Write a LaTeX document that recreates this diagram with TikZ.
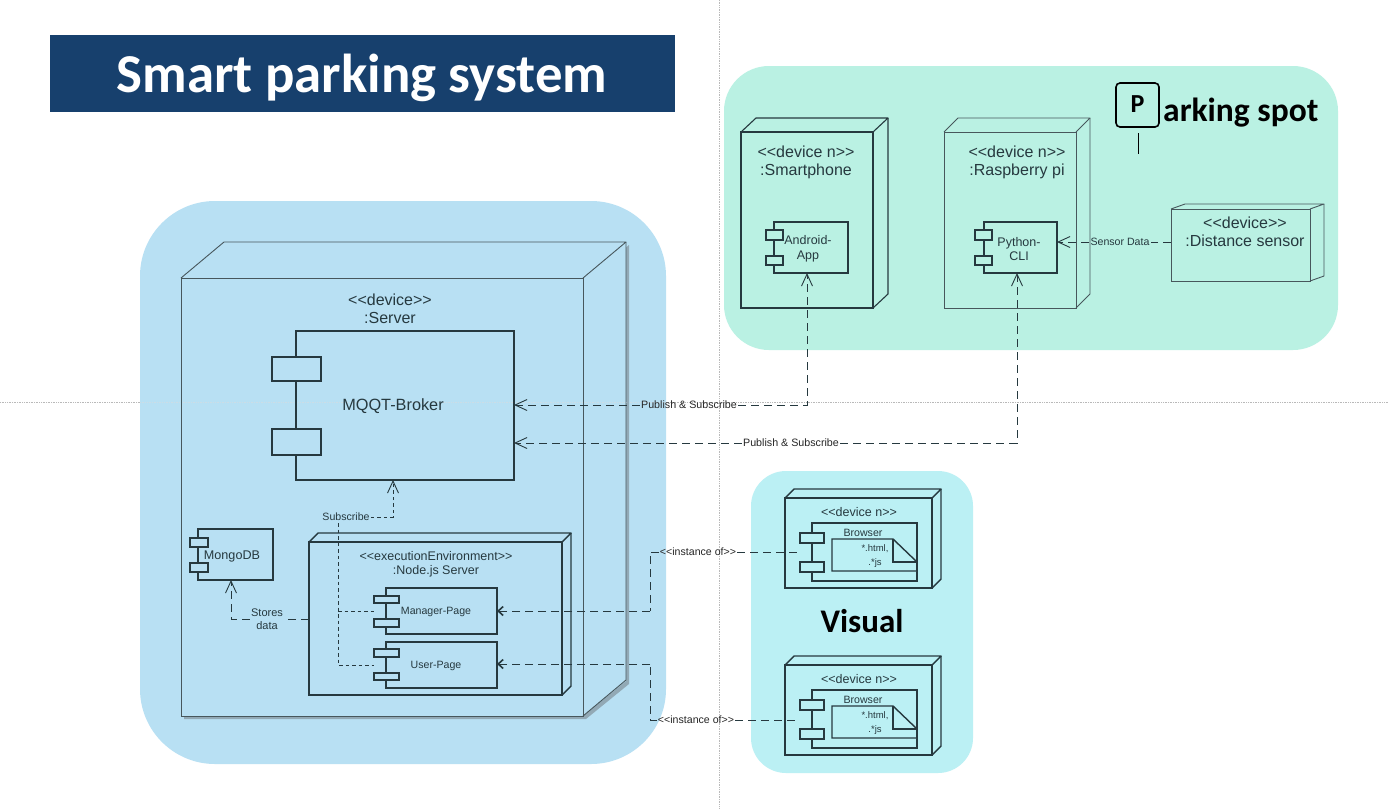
\documentclass[tikz,border=0pt]{standalone}
\usepackage{fontspec}
\setmainfont{Liberation Sans}
\newfontfamily\headfont{Carlito}
\usepackage{tikz}
\usetikzlibrary{arrows.meta,calc}
\definecolor{titlecol}{HTML}{17406D}
\definecolor{serverbg}{HTML}{B8E0F3}
\definecolor{spotbg}{HTML}{BAF1E3}
\definecolor{visualbg}{HTML}{BBF0F4}
\definecolor{linecol}{HTML}{26393F}
\definecolor{shadowcol}{HTML}{92A9B5}
\definecolor{guidefaint}{HTML}{CBDDE6}
\newcommand{\ltlt}{<{}<}
\newcommand{\gtgt}{>{}>}
\tikzset{
  guide/.style={draw=gray!55,densely dotted,line width=0.7pt},
  panel/.style={draw=none,inner sep=0pt,outer sep=0pt},
  boxnode/.style={draw=linecol,inner sep=0pt,outer sep=0pt,line width=1.4pt},
  thinbox/.style={draw=linecol!85,inner sep=0pt,outer sep=0pt,line width=0.9pt},
  boxtext/.style={text=linecol,font=\fontsize{16}{18}\selectfont,align=center,inner sep=0pt},
  smalltext/.style={text=linecol,font=\fontsize{10.6}{13}\selectfont,align=center,inner sep=1pt},
  head/.style={font=\headfont\bfseries,text=black,inner sep=0pt},
  dep/.style={draw=linecol,line width=1pt,dash pattern=on 8pt off 5pt},
  depfine/.style={draw=linecol,line width=0.8pt,dash pattern=on 3.5pt off 3pt},
  open/.style={-{Straight Barb[length=12pt,width=11pt,line width=0.9pt]}},
  openshort/.style={-{Straight Barb[length=5pt,width=9pt,line width=1.6pt]}}
}
% rectangle node given by its corners
\newcommand{\cornernode}[6][]{%
  \node[#1,minimum width={((#5)-(#3))*1pt},minimum height={((#6)-(#4))*1pt}] (#2) at ({((#3)+(#5))/2},{((#4)+(#6))/2}) {};}
% side and top of a device
\newcommand{\extrude}[4][boxnode]{%
  \draw[#1,line join=round] (#2.north west) -- ++(#3,-#4) -- ($(#2.north east)+(#3,-#4)$) -- (#2.north east);
  \draw[#1,line join=round] ($(#2.north east)+(#3,-#4)$) -- ($(#2.south east)+(#3,-#4)$) -- (#2.south east);}
\begin{document}
\begin{tikzpicture}[x=1pt,y=-1pt]
\useasboundingbox (0,0) rectangle (1388,809);
\fill[white] (0,0) rectangle (1388,809);
% guides
\coordinate (vtop) at (719,0);
\coordinate (vbot) at (719,809);
\coordinate (hleft) at (0,402);
\coordinate (hright) at (1388,402);
\draw[guide] (vtop) -- (vbot);
\draw[guide] (hleft) -- (hright);
% title
\node[panel,fill=titlecol,minimum width=625pt,minimum height=77pt] (title) at (362.5,73.5) {};
\node[font=\headfont\bfseries\fontsize{54.8}{58}\selectfont,text=white,inner sep=0pt] (titletext) at (362,77.5) {Smart parking system};
% panels
\node[panel,fill=serverbg,rounded corners=75pt,minimum width=526pt,minimum height=563pt] (serverpanel) at (403,482.5) {};
\node[panel,fill=spotbg,rounded corners=45pt,minimum width=614pt,minimum height=284pt] (spotpanel) at (1031,208) {};
\node[panel,fill=visualbg,rounded corners=35pt,minimum width=222pt,minimum height=302pt] (visualpanel) at (862,622) {};
\draw[guide,draw=guidefaint] (serverpanel.west |- hleft) -- (serverpanel.east |- hleft);
% server
\fill[shadowcol] (586,281) -- (629,245) -- (629,684) -- (586,719) -- (184,719) -- (184,716) -- (583,716) -- (583,281) -- cycle;
\fill[serverbg] (583,278) -- (626,242) -- (626,681) -- (583,716) -- cycle;
\draw[guide,draw=guidefaint] (583,402) -- (626,402);
\cornernode[thinbox]{server}{181}{278}{583}{716}
\extrude[thinbox]{server}{43}{36}
\node[boxtext] (servertext) at (390,309) {\ltlt device\gtgt\\:Server};
\cornernode[boxnode]{mqtt}{296}{331}{514}{480}
\cornernode[boxnode,fill=serverbg]{mqttport1}{272}{357}{321}{381}
\cornernode[boxnode,fill=serverbg]{mqttport2}{272}{429}{321}{455}
\node[boxtext,font=\fontsize{16.3}{18}\selectfont] (mqtttext) at (393,406) {MQQT-Broker};
\cornernode[boxnode]{mongo}{198}{529}{273}{580}
\cornernode[boxnode,fill=serverbg]{mongoport1}{190}{538}{208}{547}
\cornernode[boxnode,fill=serverbg]{mongoport2}{190}{563}{208}{572}
\node[boxtext,font=\fontsize{12.6}{16}\selectfont] (mongotext) at (232,556) {MongoDB};
\cornernode[boxnode]{nodejs}{309}{542}{562}{695}
\extrude{nodejs}{9}{9}
\node[boxtext,font=\fontsize{12.5}{14.5}\selectfont] (nodejstext) at (436,564.5) {\ltlt executionEnvironment\gtgt\\:Node.js Server};
\cornernode[boxnode]{manager}{386}{588}{497}{634}
\cornernode[boxnode,fill=serverbg]{managerport1}{374}{596}{399}{603}
\cornernode[boxnode,fill=serverbg]{managerport2}{374}{619}{399}{627}
\node[smalltext] (managertext) at (436,611.5) {Manager-Page};
\cornernode[boxnode]{user}{386}{642}{497}{688}
\cornernode[boxnode,fill=serverbg]{userport1}{374}{649}{399}{657}
\cornernode[boxnode,fill=serverbg]{userport2}{374}{673}{399}{680}
\node[smalltext] (usertext) at (436,665.5) {User-Page};
% parking spot
\cornernode[boxnode,line width=1.1pt]{phone}{741}{132}{873}{308}
\extrude[boxnode,line width=1.1pt]{phone}{15}{14}
\node[boxtext] (phonetext) at (806,162) {\ltlt device n\gtgt\\:Smartphone};
\cornernode[boxnode]{android}{774}{222}{848}{273}
\cornernode[boxnode,fill=spotbg]{androidport1}{766}{230}{783}{240}
\cornernode[boxnode,fill=spotbg]{androidport2}{766}{256}{783}{265}
\node[boxtext,font=\fontsize{12.5}{14.5}\selectfont] (androidtext) at (808,249) {Android-\\App};
\cornernode[thinbox]{raspi}{944}{132}{1076}{308}
\extrude[thinbox]{raspi}{14}{14}
\node[boxtext] (raspitext) at (1017,162) {\ltlt device n\gtgt\\:Raspberry pi};
\cornernode[boxnode]{python}{984}{222}{1057}{273}
\cornernode[boxnode,fill=spotbg]{pythonport1}{975}{230}{992}{240}
\cornernode[boxnode,fill=spotbg]{pythonport2}{975}{256}{992}{265}
\node[boxtext,font=\fontsize{12.5}{14.5}\selectfont] (pythontext) at (1019,249) {Python-\\CLI};
\cornernode[thinbox]{sensor}{1171}{209}{1310}{281}
\extrude[thinbox]{sensor}{14}{5}
\node[boxtext] (sensortext) at (1245,232) {\ltlt device\gtgt\\:Distance sensor};
\node[draw=black,line width=1.6pt,rounded corners=4pt,minimum width=43pt,minimum height=44pt,inner sep=0pt] (sign) at (1137.5,105) {};
\node[font=\headfont\bfseries\fontsize{26}{30}\selectfont,inner sep=0pt] (signtext) at (1137.5,104) {P};
\coordinate (posttop) at (1138,133);
\coordinate (postbot) at (1138,154);
\draw[black,line width=1pt] (posttop) -- (postbot);
\node[head,font=\headfont\bfseries\fontsize{33.5}{38}\selectfont,anchor=west] (spottext) at (1163,113) {arking spot};
% visual
\foreach \name/\dy in {one/0,two/167}{
  \cornernode[boxnode]{browser\name}{785}{498+\dy}{932}{588+\dy}
  \extrude{browser\name}{9}{9}
  \node[boxtext,font=\fontsize{12.5}{14}\selectfont] (devicetext\name) at (859,512+\dy) {\ltlt device n\gtgt};
  \cornernode[boxnode]{comp\name}{812}{523+\dy}{917}{581+\dy}
  \cornernode[boxnode,fill=visualbg]{compport\name a}{800}{533+\dy}{824}{543+\dy}
  \cornernode[boxnode,fill=visualbg]{compport\name b}{800}{562+\dy}{824}{572+\dy}
  \node[smalltext] (browsertext\name) at (863,533+\dy) {Browser};
  \coordinate (noteA\name) at (832,539+\dy);
  \coordinate (noteB\name) at (893,539+\dy);
  \coordinate (noteC\name) at (917,562+\dy);
  \coordinate (noteD\name) at (917,571+\dy);
  \coordinate (noteE\name) at (832,571+\dy);
  \coordinate (noteF\name) at (893,562+\dy);
  \draw[boxnode,fill=visualbg] (noteD\name) -- (noteE\name) -- (noteA\name) -- (noteB\name) -- (noteC\name);
  \draw[boxnode] (noteB\name) -- (noteF\name) -- (noteC\name) -- (noteD\name);
  \node[smalltext,font=\fontsize{9.5}{13.5}\selectfont] (notetext\name) at (875,556+\dy) {*.html,\\.*js};
}
\node[head,font=\headfont\bfseries\fontsize{33}{36}\selectfont] (visualtext) at (862,621) {Visual};
% connectors
\node[smalltext,font=\fontsize{10.7}{12}\selectfont,text=black!85] (publabelA) at (689,405) {Publish \& Subscribe};
\node[smalltext,font=\fontsize{10.7}{12}\selectfont,text=black!85] (publabelB) at (791,443) {Publish \& Subscribe};
\draw[dep,open] (publabelA.west) -- (publabelA.west -| mqtt.east);
\draw[dep,open] (publabelA.east) -| (android.south -| 807,0);
\draw[dep,open] (publabelB.west) -- (publabelB.west -| mqtt.east);
\draw[dep,open] (publabelB.east) -| (python.south -| 1017,0);
\node[smalltext] (sensorlabel) at (1120,242) {Sensor Data};
\draw[dep,open] (sensorlabel.west) -- (sensorlabel.west -| python.east);
\draw[dep] (sensor.west |- sensorlabel) -- (sensorlabel.east);
\node[smalltext] (subscribelabel) at (346,517) {Subscribe};
\coordinate (subtop) at (338,523);
\coordinate (managerleft) at (managerport1.west |- manager.center);
\coordinate (userleft) at (userport1.west |- user.center);
\draw[depfine,open] (subscribelabel.east) -| (mqtt.south -| 393,0);
\draw[depfine] (subtop) |- (userleft);
\draw[depfine] (subtop |- managerleft) -- (managerleft);
\node[smalltext,font=\fontsize{11}{12.5}\selectfont] (storeslabel) at (267,619) {Stores\\data};
\draw[dep] (nodejs.west |- storeslabel) -- (storeslabel.east);
\draw[dep,open] (storeslabel.west) -| (mongo.south -| 231,0);
\node[smalltext,text=black!85] (instlabelA) at (698,552) {\ltlt instance of\gtgt};
\node[smalltext,text=black!85] (instlabelB) at (696,720) {\ltlt instance of\gtgt};
\coordinate (turnA) at (650,611);
\coordinate (turnB) at (650,664);
\draw[dep,openshort] (turnA) -- (manager.east |- turnA);
\draw[dep] (instlabelA.west) -| (turnA);
\draw[dep] (instlabelA.east) -- (compportonea.west |- instlabelA);
\draw[dep,openshort] (turnB) -- (user.east |- turnB);
\draw[dep] (instlabelB.west) -| (turnB);
\draw[dep] (instlabelB.east) -- (compporttwoa.west |- instlabelB);
\end{tikzpicture}
\end{document}
